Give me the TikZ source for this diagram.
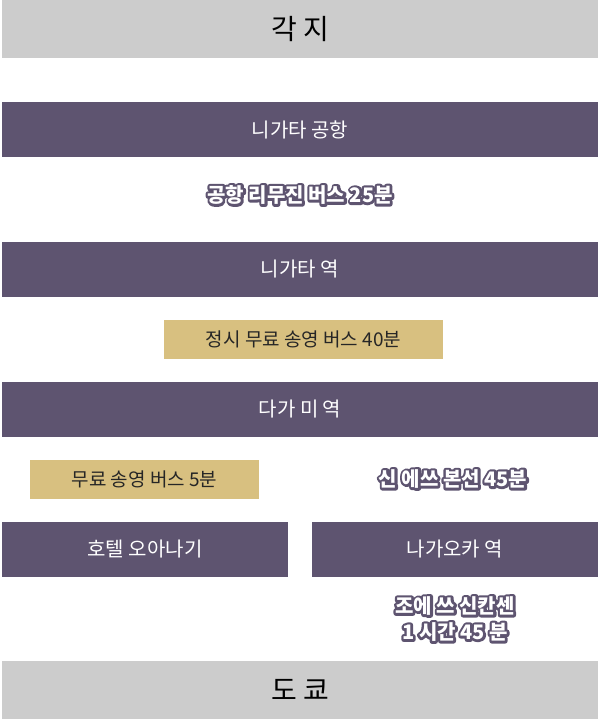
\documentclass[tikz,border=0pt]{standalone}
\usepackage{fontspec}
\setmainfont{Noto Sans CJK KR}
\definecolor{boxpurple}{RGB}{94, 84, 112}
\definecolor{boxgray}{RGB}{204, 204, 204}
\definecolor{boxtan}{RGB}{216, 192, 128}
\usetikzlibrary{positioning}
\tikzset{
    endbar/.style={fill=boxgray, minimum height=58pt, inner sep=0pt, font=\fontsize{28}{32}\selectfont},
    stationbox/.style={fill=boxpurple, text=white, minimum height=55pt, inner sep=0pt, font=\fontsize{20}{24}\selectfont},
    busbox/.style={fill=boxtan, text=black!85, minimum height=39pt, inner sep=0pt, font=\fontsize{19}{22}\selectfont},
    halo/.style={text=white, font=\fontsize{20}{26}\bfseries\selectfont, align=center}
}
% outlined text: stroked purple copy behind, white on top
\newcommand{\strokeon}{\special{pdf:literal 1 Tr 5 w 1 j 0.369 0.329 0.439 RG}}
\newcommand{\strokeoff}{\special{pdf:literal 0 Tr}}
\begin{document}
\begin{tikzpicture}[x=1pt, y=-1pt]
    \useasboundingbox (0,0) rectangle (600,719);

    % end points
    \node[endbar, minimum width=596pt] (start) at (300,29) {각 지};
    \node[endbar, minimum width=596pt] (tokyo) at (300,690) {도 쿄};

    % stations
    \node[stationbox, minimum width=596pt] (airport) at (300,130) {니가타 공항};
    \node[stationbox, minimum width=596pt] (niigata) at (300,269) {니가타 역};
    \node[stationbox, minimum width=596pt] (dagami) at (300,409) {다가 미 역};
    \node[stationbox, minimum width=286pt] (hotel) at (145,549) {호텔 오아나기};
    \node[stationbox, minimum width=286pt] (nagaoka) at (455,549) {나가오카 역};

    % free buses
    \node[busbox, minimum width=279pt] (bus40) at (303.5,339) {정시 무료 송영 버스 40분};
    \node[busbox, minimum width=229pt] (bus5) at (144.5,479) {무료 송영 버스 5분};

    % lines
    \node[halo] (limo) at (300,195) {\strokeon 공항 리무진 버스 25분\strokeoff};
    \node[halo] (limolabel) at (limo) {공항 리무진 버스 25분};
    \node[halo] (shinetsu) at (453,479) {\strokeon 신 에쓰 본선 45분\strokeoff};
    \node[halo] (shinetsulabel) at (shinetsu) {신 에쓰 본선 45분};
    \node[halo] (joetsu) at (455,619) {\strokeon 조에 쓰 신칸센\strokeoff\\\strokeon 1 시간 45 분\strokeoff};
    \node[halo] (joetsulabel) at (joetsu) {조에 쓰 신칸센\\1 시간 45 분};
\end{tikzpicture}
\end{document}
